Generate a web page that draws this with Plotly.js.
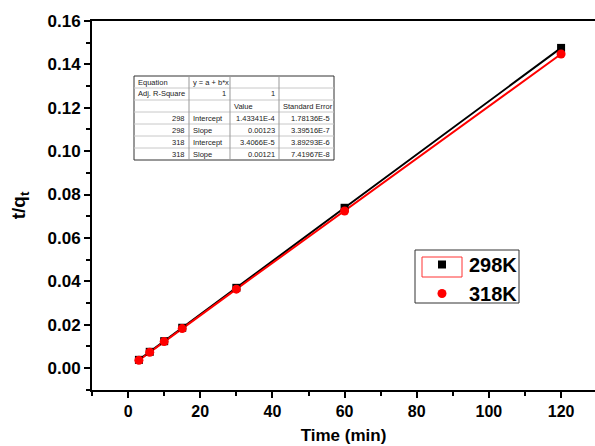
<!DOCTYPE html>
<html>
<head>
<meta charset="utf-8">
<script src="https://cdn.plot.ly/plotly-3.0.1.min.js"></script>
<style>html,body{margin:0;padding:0;background:#fff;}#chart{width:595px;height:446px;}</style>
</head>
<body>
<div id="chart"></div>
<script>
// ---- data ----
const timeMin = [3, 6, 10, 15, 30, 60, 120];
const tq298 = [0.0038, 0.0075, 0.0124, 0.0186, 0.0370, 0.0739, 0.1476];
const tq318 = [0.0036, 0.0073, 0.0122, 0.0182, 0.0364, 0.0724, 0.1448];
const seriesNames = ['298K', '318K'];
const xTickVals = [0, 20, 40, 60, 80, 100, 120];
const yTickVals = [0.00, 0.02, 0.04, 0.06, 0.08, 0.10, 0.12, 0.14, 0.16];
// fit table
const tableRows = [
  ['Equation', 'y = a + b*x', '', ''],
  ['Adj. R-Square', '1', '1', ''],
  ['', '', 'Value', 'Standard Error'],
  ['298', 'Intercept', '1.43341E-4', '1.78136E-5'],
  ['298', 'Slope', '0.00123', '3.39516E-7'],
  ['318', 'Intercept', '3.4066E-5', '3.89293E-6'],
  ['318', 'Slope', '0.00121', '7.41967E-8']
];

// ---- layout helpers (pixel -> paper) ----
const L = 92, T = 21, W = 503, H = 369;
const px = x => (x - L) / W;
const py = y => (T + H - y) / H;

const FONT = 'Arial, "Liberation Sans", sans-serif';

const traces = [
  {x: timeMin, y: tq298, mode: 'lines', line: {color: '#000', width: 2}, showlegend: false, hoverinfo: 'skip'},
  {x: timeMin, y: tq318, mode: 'lines', line: {color: '#ff0000', width: 2}, showlegend: false, hoverinfo: 'skip'},
  {x: timeMin, y: tq298, mode: 'markers', name: seriesNames[0], marker: {symbol: 'square', color: '#000', size: 8}},
  {x: timeMin, y: tq318, mode: 'markers', name: seriesNames[1], marker: {symbol: 'circle', color: '#ff0000', size: 9}}
];

// table shapes + annotations
const colX = [134, 189, 230, 279, 334];
const rowY0 = 76, rowH = 12, nRows = tableRows.length;
const shapes = [];
const annotations = [];
shapes.push({type: 'rect', xref: 'paper', yref: 'paper', x0: px(colX[0]), x1: px(colX[4]),
  y0: py(rowY0), y1: py(rowY0 + rowH * nRows), line: {color: '#333', width: 1}, fillcolor: '#fff', layer: 'above'});
for (let r = 1; r < nRows; r++) {
  shapes.push({type: 'line', xref: 'paper', yref: 'paper', x0: px(colX[0]), x1: px(colX[4]),
    y0: py(rowY0 + r * rowH), y1: py(rowY0 + r * rowH), line: {color: '#c8c8c8', width: 1}, layer: 'above'});
}
for (let c = 1; c < 4; c++) {
  shapes.push({type: 'line', xref: 'paper', yref: 'paper', x0: px(colX[c]), x1: px(colX[c]),
    y0: py(rowY0), y1: py(rowY0 + rowH * nRows), line: {color: '#999', width: 1}, layer: 'above'});
}
const alignRule = (r, c) => {
  if (r === 0) return 'left';
  if (r === 1) return c === 0 ? 'left' : 'right';
  if (r === 2) return 'left';
  return (c === 0 || c >= 2) ? 'right' : 'left';
};
tableRows.forEach((row, r) => {
  row.forEach((txt, c) => {
    if (!txt) return;
    const al = alignRule(r, c);
    annotations.push({
      xref: 'paper', yref: 'paper',
      x: al === 'left' ? px(colX[c] + 2) : px(colX[c + 1] - 2),
      y: py(rowY0 + r * rowH + rowH / 2),
      xanchor: al, yanchor: 'middle', showarrow: false,
      text: txt, font: {family: FONT, size: 7.5, color: '#222'}
    });
  });
});
// legend frame and selection rectangle around first legend symbol
shapes.push({type: 'rect', xref: 'paper', yref: 'paper', x0: px(415), x1: px(519), y0: py(250), y1: py(303),
  line: {color: '#333', width: 1}, fillcolor: '#fff', layer: 'above'});
shapes.push({type: 'rect', xref: 'paper', yref: 'paper', x0: px(422), x1: px(462), y0: py(257), y1: py(277),
  line: {color: '#ff3333', width: 1}, layer: 'above'});

const layout = {
  width: 595, height: 446,
  margin: {l: L, r: 595 - L - W, t: T, b: 446 - T - H, pad: 0},
  paper_bgcolor: '#fff', plot_bgcolor: '#fff',
  font: {family: FONT, color: '#000'},
  xaxis: {
    range: [-10, 129.4], tickvals: xTickVals, ticktext: xTickVals.map(String),
    showgrid: false, zeroline: false, showline: true, linecolor: '#000', linewidth: 2, mirror: true,
    ticks: 'outside', ticklen: 6, tickwidth: 2, tickcolor: '#000',
    minor: {dtick: 10, tick0: 0, ticks: 'outside', ticklen: 4, tickwidth: 2, tickcolor: '#000'},
    tickfont: {family: FONT, size: 16, color: '#000', weight: 'bold'},
    title: {text: '<b>Time (min)</b>', font: {family: FONT, size: 17, color: '#000'}, standoff: 10},
    automargin: false
  },
  yaxis: {
    range: [-0.0101, 0.16], tickvals: yTickVals, ticktext: yTickVals.map(v => v.toFixed(2)),
    showgrid: false, zeroline: false, showline: true, linecolor: '#000', linewidth: 2, mirror: false,
    ticks: 'outside', ticklen: 6, tickwidth: 2, tickcolor: '#000',
    minor: {dtick: 0.01, tick0: 0, ticks: 'outside', ticklen: 4, tickwidth: 2, tickcolor: '#000'},
    tickfont: {family: FONT, size: 17, color: '#000', weight: 'bold'},
    title: {text: '<b>t/q<sub>t</sub></b>', font: {family: FONT, size: 19, color: '#000'}, standoff: 17},
    automargin: false
  },
  showlegend: true,
  legend: {
    x: px(415), y: py(245), xanchor: 'left', yanchor: 'top',
    borderwidth: 0, bgcolor: 'rgba(0,0,0,0)',
    font: {family: FONT, size: 20, color: '#000', weight: 'bold'},
    itemwidth: 44, tracegroupgap: 0
  },
  shapes: shapes,
  annotations: annotations
};

Plotly.newPlot('chart', traces, layout, {staticPlot: true, displayModeBar: false});
</script>
</body>
</html>
